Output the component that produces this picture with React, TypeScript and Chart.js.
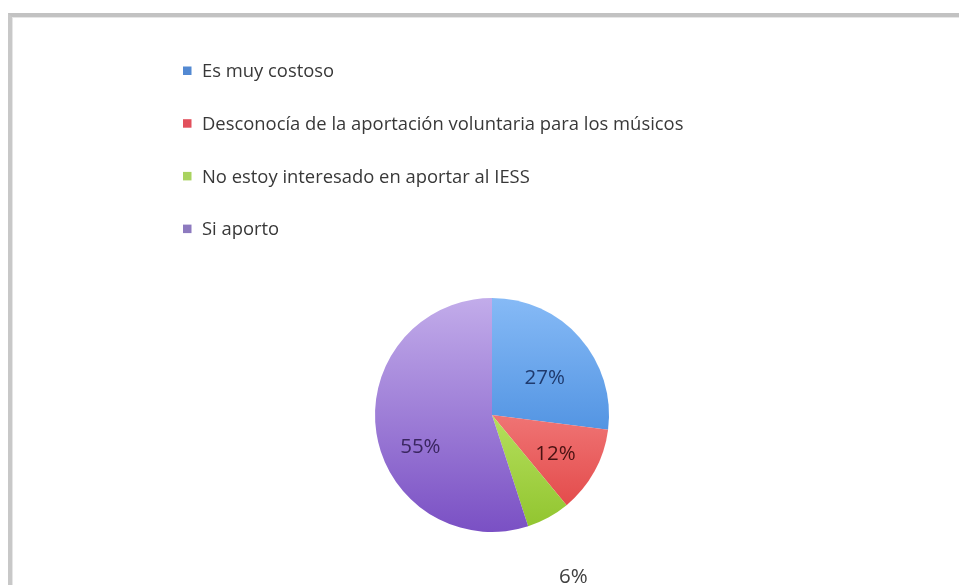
import React, { useEffect, useRef } from "react";
import { Chart, registerables } from "chart.js";

Chart.register(...registerables);

const categories = [
  "Es muy costoso",
  "Desconocía de la aportación voluntaria para los músicos",
  "No estoy interesado en aportar al IESS",
  "Si aporto",
];
const shares = [27, 12, 6, 55];

const legendColors = ["#5389D2", "#E2505C", "#A9D35F", "#8D7ABF"];
const topColors = ["#86BAF6", "#FFA8A8", "#DAFA8A", "#C2ACEA"];
const bottomColors = ["#2C78D4", "#E04040", "#90C42E", "#7A50C4"];
const labelColors = ["#1F3A6E", "#4A1212", "#404040", "#3A2660"];

const FONT = "'Open Sans', Lato, sans-serif";

const legendPlugin = {
  id: "sideLegend",
  afterDraw(chart: any) {
    const ctx = chart.ctx;
    const x = 183;
    const y0 = 71;
    const step = 52.7;
    ctx.save();
    ctx.font = `18.4px ${FONT}`;
    ctx.textBaseline = "middle";
    ctx.textAlign = "left";
    (chart.data.labels as string[]).forEach((lab, i) => {
      const y = y0 + i * step;
      ctx.fillStyle = legendColors[i];
      ctx.fillRect(x, y - 4.5, 8.5, 8.5);
      ctx.fillStyle = "#383838";
      ctx.fillText(lab, x + 19, y + 1);
    });
    ctx.restore();
  },
};

// per-slice nudges (radius factor, shifts) mimicking the original's best-fit placement
const labelPlacement = [
  { f: 0.6, dx: 0, dy: 10 },
  { f: 0.62, dx: 0, dy: 4 },
  { f: 1.55, dx: -6, dy: 3 },
  { f: 0.62, dx: 0, dy: 21 },
];

const labelPlugin = {
  id: "sliceLabels",
  afterDatasetsDraw(chart: any) {
    const ctx = chart.ctx;
    const meta = chart.getDatasetMeta(0);
    const values = chart.data.datasets[0].data as number[];
    ctx.save();
    ctx.font = `20.5px ${FONT}`;
    ctx.textAlign = "center";
    ctx.textBaseline = "middle";
    meta.data.forEach((arc: any, i: number) => {
      const { startAngle, endAngle, x, y, outerRadius } = arc.getProps(
        ["startAngle", "endAngle", "x", "y", "outerRadius"],
        true
      );
      const mid = (startAngle + endAngle) / 2;
      const p = labelPlacement[i];
      const px = x + Math.cos(mid) * outerRadius * p.f + p.dx;
      const py = y + Math.sin(mid) * outerRadius * p.f + p.dy;
      ctx.fillStyle = labelColors[i];
      ctx.fillText(`${values[i]}%`, px, py);
    });
    ctx.restore();
  },
};

export default function App() {
  const ref = useRef<HTMLCanvasElement | null>(null);

  useEffect(() => {
    if (!ref.current) return;
    const chart = new Chart(ref.current, {
      type: "pie",
      data: {
        labels: categories,
        datasets: [
          {
            data: shares,
            borderWidth: 0,
            backgroundColor: (c: any) => {
              const i = c.dataIndex;
              const area = c.chart.chartArea;
              if (!area) return legendColors[i];
              const g = c.chart.ctx.createLinearGradient(0, area.top, 0, area.bottom);
              g.addColorStop(0, topColors[i]);
              g.addColorStop(1, bottomColors[i]);
              return g;
            },
          },
        ],
      },
      options: {
        responsive: false,
        animation: false,
        devicePixelRatio: 1,
        layout: { padding: { left: 375, right: 350, top: 298, bottom: 53 } },
        plugins: {
          legend: { display: false },
          tooltip: { enabled: false },
        },
      },
      plugins: [legendPlugin, labelPlugin],
    });
    return () => chart.destroy();
  }, []);

  return (
    <div style={{ position: "absolute", left: 0, top: 0, width: 959, height: 585, background: "#fff", overflow: "hidden" }}>
      <div
        style={{
          position: "absolute",
          left: 8,
          top: 13,
          width: 1000,
          height: 700,
          borderTop: "4px solid #C2C2C2",
          borderLeft: "4px solid #C8C8C8",
          boxShadow: "inset 1px 1px 0 #E6E6E6",
        }}
      />
      <canvas
        ref={ref}
        width={959}
        height={585}
        style={{ position: "absolute", left: 0, top: 0, width: 959, height: 585 }}
      />
    </div>
  );
}
